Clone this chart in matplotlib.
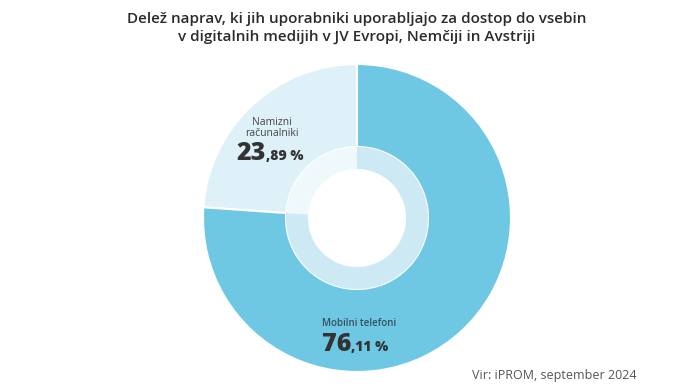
import matplotlib
matplotlib.use('Agg')
from matplotlib import pyplot as plt

labels = ['Namizni\nračunalniki', 'Mobilni telefoni']
shares = [23.89, 76.11]
int_part = ['23', '76']
dec_part = [',89 %', ',11 %']
outer_colors = ['#dff1f8', '#6fc8e3']
inner_colors = ['#eff9fc', '#cdeaf4']

plt.rcParams['font.family'] = ['Open Sans', 'DejaVu Sans']

fig = plt.figure(figsize=(7, 3.91), dpi=100)
ax = fig.add_axes([0, 0, 1, 1])

cx, cy = 357, 391 - 218
# outer donut
ax.pie(shares, colors=outer_colors, startangle=90, counterclock=True,
       center=(cx, cy), radius=154,
       wedgeprops=dict(width=83, edgecolor='white', linewidth=1.5))
# inner ring
ax.pie(shares, colors=inner_colors, startangle=90, counterclock=True,
       center=(cx, cy), radius=71,
       wedgeprops=dict(width=22, edgecolor='none'))

ax.set_xlim(0, 700)
ax.set_ylim(0, 391)
ax.set_aspect('equal')
ax.axis('off')

# title
ax.text(357, 391 - 19, 'Delež naprav, ki jih uporabniki uporabljajo za dostop do vsebin',
        ha='center', va='center', fontsize=11, fontweight='semibold', color='#2b2b2b')
ax.text(357, 391 - 37, 'v digitalnih medijih v JV Evropi, Nemčiji in Avstriji',
        ha='center', va='center', fontsize=11, fontweight='semibold', color='#2b2b2b')

# desktop label
ax.text(272, 391 - 128, labels[0], ha='center', va='center', fontsize=7.5,
        color='#444444', linespacing=1.1)
ax.text(266, 391 - 160, int_part[0], ha='right', va='baseline', fontsize=18,
        fontweight='heavy', color='#333333')
ax.text(266, 391 - 160, dec_part[0], ha='left', va='baseline', fontsize=10,
        fontweight='heavy', color='#333333')

# mobile label
ax.text(322, 391 - 323, labels[1], ha='left', va='center', fontsize=7,
        fontweight='semibold', color='#33505c')
ax.text(351, 391 - 351, int_part[1], ha='right', va='baseline', fontsize=18,
        fontweight='heavy', color='#333333')
ax.text(351, 391 - 351, dec_part[1], ha='left', va='baseline', fontsize=10,
        fontweight='heavy', color='#333333')

ax.text(637, 391 - 375, 'Vir: iPROM, september 2024', ha='right', va='center',
        fontsize=9, color='#555555')

fig.savefig('out.png', dpi=100)
